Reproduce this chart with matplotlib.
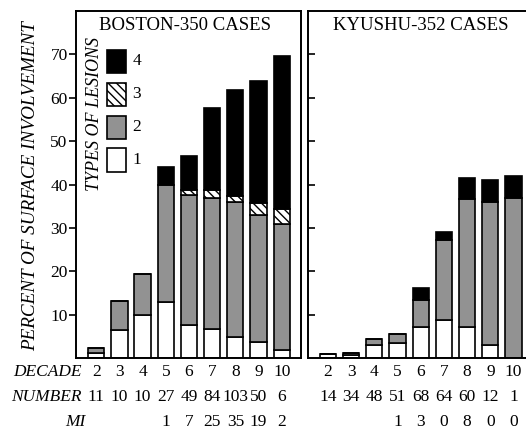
import numpy as np
import matplotlib
matplotlib.use("Agg")
import matplotlib.pyplot as plt
from matplotlib.patches import Rectangle

decades = [2, 3, 4, 5, 6, 7, 8, 9, 10]

# Boston - percent of surface involvement by lesion type
boston_t1 = [1.2, 6.5, 9.9, 13.0, 7.6, 6.6, 4.9, 3.6, 1.8]
boston_t2 = [1.2, 6.7, 9.4, 26.9, 29.9, 30.4, 31.1, 29.4, 29.0]
boston_t3 = [0.0, 0.0, 0.0, 0.0, 1.2, 1.7, 1.3, 2.8, 3.5]
boston_t4 = [0.0, 0.0, 0.0, 4.2, 7.8, 19.0, 24.6, 28.0, 35.3]
boston_number = ["11", "10", "10", "27", "49", "84", "103", "50", "6"]
boston_mi = ["", "", "", "1", "7", "25", "35", "19", "2"]

# Kyushu
kyushu_t1 = [0.9, 0.6, 2.9, 3.4, 7.2, 8.8, 7.2, 3.0, 0.0]
kyushu_t2 = [0.0, 0.5, 1.5, 2.1, 6.2, 18.5, 29.4, 33.0, 37.0]
kyushu_t3 = [0.0, 0.0, 0.0, 0.0, 0.0, 0.0, 0.0, 0.0, 0.0]
kyushu_t4 = [0.0, 0.0, 0.0, 0.0, 2.7, 1.8, 4.8, 5.0, 4.9]
kyushu_number = ["14", "34", "48", "51", "68", "64", "60", "12", "1"]
kyushu_mi = ["", "", "", "1", "3", "0", "8", "0", "0"]

plt.rcParams['font.family'] = ['Liberation Serif', 'DejaVu Serif']
plt.rcParams['hatch.linewidth'] = 1.0

GRAY = '#929292'
fs = 12.5

fig = plt.figure(figsize=(5.26, 4.32), dpi=100)
ax1 = fig.add_axes([0.1445, 0.1713, 0.4278, 0.803])
ax2 = fig.add_axes([0.585, 0.1713, 0.428, 0.803])


def draw_panel(ax, t1, t2, t3, t4, title):
    x = np.array(decades)
    b = np.zeros(len(x))
    w = 0.7
    ax.bar(x, t1, w, bottom=b, color='white', edgecolor='black', lw=1.2)
    b = b + np.array(t1)
    ax.bar(x, t2, w, bottom=b, color=GRAY, edgecolor='black', lw=1.2)
    b = b + np.array(t2)
    t3a = np.array(t3)
    m = t3a > 0
    ax.bar(x[m], t3a[m], w, bottom=b[m], color='white', edgecolor='black',
           lw=1.2, hatch='\\\\\\\\')
    b = b + t3a
    ax.bar(x, t4, w, bottom=b, color='black', edgecolor='black', lw=1.2)
    ax.set_xlim(1.13, 10.83)
    ax.set_ylim(0, 80)
    ax.set_yticks([10, 20, 30, 40, 50, 60, 70])
    ax.set_xticks([])
    for s in ax.spines.values():
        s.set_linewidth(1.4)
    ax.text(0.5, 0.958, title, transform=ax.transAxes, ha='center', va='center',
            fontsize=13.5)


draw_panel(ax1, boston_t1, boston_t2, boston_t3, boston_t4, "BOSTON-350 CASES")
draw_panel(ax2, kyushu_t1, kyushu_t2, kyushu_t3, kyushu_t4, "KYUSHU-352 CASES")
ax1.texts[-1].set_x(0.484)

ax1.tick_params(axis='y', direction='out', length=5, width=1.2, labelsize=fs, pad=1)
ax2.tick_params(axis='y', direction='in', length=5, width=1.2, labelleft=False)

fig.text(0.058, 0.569, "PERCENT OF SURFACE INVOLVEMENT", rotation=90,
         ha='center', va='center', fontsize=13.8, style='italic')

# legend
ax1.text(0.08, 0.703, "TYPES OF LESIONS", transform=ax1.transAxes, rotation=90,
         ha='center', va='center', fontsize=13, style='italic')
leg = [('4', 'black', None), ('3', 'white', '\\\\\\\\'), ('2', GRAY, None), ('1', 'white', None)]
for i, (lab, col, h) in enumerate(leg):
    y0 = 0.821 - i * 0.095
    ax1.add_patch(Rectangle((0.137, y0), 0.083, 0.068, transform=ax1.transAxes,
                            facecolor=col, edgecolor='black', lw=1.2, hatch=h))
    ax1.text(0.25, y0 + 0.034, lab, transform=ax1.transAxes, ha='left',
             va='center', fontsize=fs)

# rows under the panels
rows = [0.139, 0.081, 0.023]
fig.text(0.156, rows[0], "DECADE", ha='right', va='center', fontsize=fs, style='italic')
fig.text(0.156, rows[1], "NUMBER", ha='right', va='center', fontsize=fs, style='italic')
fig.text(0.143, rows[2], "MI", ha='center', va='center', fontsize=fs, style='italic')

for ax, nums, mis in [(ax1, boston_number, boston_mi), (ax2, kyushu_number, kyushu_mi)]:
    tr = matplotlib.transforms.blended_transform_factory(ax.transData, fig.transFigure)
    for d, n, mi in zip(decades, nums, mis):
        ax.text(d, rows[0], str(d), transform=tr, ha='center', va='center', fontsize=fs, clip_on=False)
        ax.text(d, rows[1], n, transform=tr, ha='center', va='center', fontsize=fs, clip_on=False)
        ax.text(d, rows[2], mi, transform=tr, ha='center', va='center', fontsize=fs, clip_on=False)

fig.savefig("out.png", dpi=100)
